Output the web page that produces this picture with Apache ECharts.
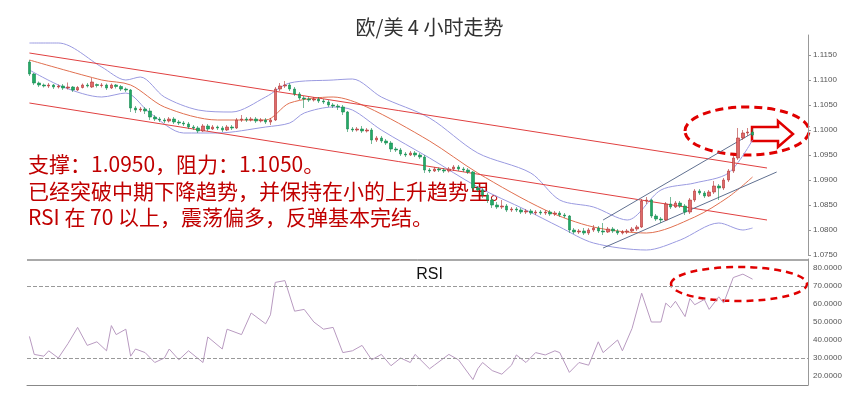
<!DOCTYPE html>
<html>
<head>
<meta charset="utf-8">
<script src="https://cdn.jsdelivr.net/npm/echarts@6/dist/echarts.min.js"></script>
<style>html,body{margin:0;padding:0;background:#fff}#main{width:859px;height:405px}</style>
</head>
<body>
<div id="main"></div>
<script>
// K线数据 [open, close, low, high]
const candles = [
  [1.1136,1.1112,1.1108,1.1140],[1.1112,1.1094,1.1090,1.1114],[1.1094,1.1090,1.1086,1.1097],[1.1090,1.1088,1.1085,1.1093],
  [1.1088,1.1090,1.1084,1.1094],[1.1090,1.1086,1.1082,1.1092],[1.1086,1.1088,1.1083,1.1091],[1.1088,1.1084,1.1080,1.1092],
  [1.1084,1.1086,1.1081,1.1095],[1.1086,1.1080,1.1076,1.1088],[1.1080,1.1085,1.1078,1.1088],[1.1085,1.1090,1.1083,1.1093],
  [1.1090,1.1088,1.1085,1.1094],[1.1086,1.1096,1.1084,1.1104],[1.1091,1.1089,1.1085,1.1093],[1.1089,1.1090,1.1085,1.1094],
  [1.1090,1.1084,1.1080,1.1093],[1.1084,1.1090,1.1082,1.1093],[1.1090,1.1087,1.1083,1.1092],[1.1087,1.1082,1.1078,1.1090],
  [1.1082,1.1080,1.1076,1.1085],[1.1080,1.1044,1.1036,1.1082],[1.1044,1.1040,1.1034,1.1048],[1.1040,1.1042,1.1036,1.1046],
  [1.1042,1.1038,1.1032,1.1046],[1.1038,1.1026,1.1020,1.1044],[1.1026,1.1022,1.1018,1.1030],[1.1022,1.1020,1.1016,1.1026],
  [1.1020,1.1018,1.1014,1.1024],[1.1018,1.1022,1.1015,1.1026],[1.1022,1.1016,1.1012,1.1026],[1.1016,1.1014,1.1010,1.1020],
  [1.1014,1.1012,1.1008,1.1018],[1.1012,1.1006,1.1002,1.1016],[1.1006,1.1004,1.1000,1.1010],[1.1004,1.0998,1.0994,1.1008],
  [1.0998,1.1008,1.0996,1.1012],[1.1008,1.1002,1.0998,1.1012],[1.1002,1.1006,1.1000,1.1010],[1.1006,1.1004,1.1000,1.1009],
  [1.1004,1.1000,1.0996,1.1008],[1.1000,1.1006,1.0998,1.1010],[1.1006,1.1004,1.1000,1.1010],[1.1004,1.1020,1.1002,1.1024],
  [1.1020,1.1022,1.1016,1.1030],[1.1022,1.1020,1.1016,1.1026],[1.1020,1.1022,1.1017,1.1026],[1.1022,1.1018,1.1014,1.1026],
  [1.1018,1.1020,1.1015,1.1024],[1.1020,1.1016,1.1012,1.1024],[1.1016,1.1020,1.1010,1.1024],[1.1020,1.1082,1.1018,1.1086],
  [1.1082,1.1088,1.1078,1.1094],[1.1088,1.1090,1.1084,1.1098],[1.1090,1.1082,1.1078,1.1094],[1.1082,1.1072,1.1068,1.1086],
  [1.1072,1.1064,1.1060,1.1076],[1.1064,1.1062,1.1044,1.1068],[1.1062,1.1060,1.1056,1.1066],[1.1060,1.1062,1.1057,1.1066],
  [1.1062,1.1058,1.1054,1.1066],[1.1058,1.1056,1.1052,1.1062],[1.1056,1.1050,1.1046,1.1060],[1.1050,1.1048,1.1044,1.1054],
  [1.1048,1.1046,1.1040,1.1052],[1.1046,1.1036,1.1030,1.1050],[1.1036,1.1002,1.0996,1.1038],[1.1002,1.1000,1.0996,1.1006],
  [1.1000,1.1002,1.0997,1.1006],[1.1002,1.0998,1.0994,1.1008],[1.0998,1.1000,1.0995,1.1004],[1.1000,1.0980,1.0972,1.1004],
  [1.0980,1.0984,1.0976,1.0988],[1.0984,1.0978,1.0974,1.0988],[1.0978,1.0974,1.0970,1.0982],[1.0974,1.0962,1.0956,1.0978],
  [1.0962,1.0960,1.0956,1.0966],[1.0960,1.0952,1.0948,1.0964],[1.0952,1.0950,1.0946,1.0956],[1.0950,1.0954,1.0948,1.0958],
  [1.0954,1.0950,1.0946,1.0958],[1.0950,1.0946,1.0942,1.0954],[1.0946,1.0920,1.0914,1.0950],[1.0920,1.0918,1.0914,1.0924],
  [1.0918,1.0922,1.0916,1.0926],[1.0922,1.0920,1.0916,1.0925],[1.0920,1.0918,1.0914,1.0924],[1.0918,1.0922,1.0915,1.0926],
  [1.0922,1.0926,1.0918,1.0930],[1.0926,1.0922,1.0918,1.0930],[1.0922,1.0920,1.0916,1.0926],[1.0920,1.0916,1.0912,1.0924],
  [1.0916,1.0884,1.0878,1.0918],[1.0884,1.0880,1.0876,1.0888],[1.0880,1.0870,1.0864,1.0884],[1.0870,1.0860,1.0854,1.0874],
  [1.0860,1.0850,1.0844,1.0864],[1.0850,1.0846,1.0842,1.0856],[1.0846,1.0848,1.0842,1.0860],[1.0848,1.0840,1.0836,1.0852],
  [1.0840,1.0842,1.0836,1.0846],[1.0842,1.0840,1.0836,1.0846],[1.0840,1.0836,1.0832,1.0844],[1.0836,1.0838,1.0832,1.0842],
  [1.0838,1.0834,1.0830,1.0842],[1.0834,1.0836,1.0830,1.0840],[1.0836,1.0834,1.0830,1.0840],[1.0834,1.0836,1.0830,1.0840],
  [1.0836,1.0832,1.0828,1.0840],[1.0832,1.0834,1.0828,1.0838],[1.0834,1.0830,1.0826,1.0838],[1.0830,1.0828,1.0824,1.0834],
  [1.0828,1.0800,1.0794,1.0830],[1.0800,1.0796,1.0792,1.0804],[1.0796,1.0798,1.0792,1.0802],[1.0798,1.0794,1.0790,1.0804],
  [1.0794,1.0800,1.0790,1.0804],[1.0800,1.0804,1.0796,1.0810],[1.0804,1.0798,1.0794,1.0808],[1.0798,1.0796,1.0790,1.0814],
  [1.0796,1.0802,1.0794,1.0806],[1.0802,1.0798,1.0794,1.0806],[1.0798,1.0794,1.0790,1.0802],[1.0794,1.0796,1.0791,1.0800],
  [1.0796,1.0798,1.0792,1.0802],[1.0798,1.0802,1.0796,1.0806],[1.0802,1.0806,1.0798,1.0810],[1.0806,1.0858,1.0804,1.0862],
  [1.0858,1.0860,1.0852,1.0866],[1.0860,1.0828,1.0824,1.0862],[1.0828,1.0822,1.0818,1.0832],[1.0822,1.0820,1.0814,1.0826],
  [1.0820,1.0852,1.0818,1.0856],[1.0852,1.0846,1.0842,1.0866],[1.0846,1.0854,1.0844,1.0858],[1.0854,1.0848,1.0844,1.0858],
  [1.0848,1.0836,1.0830,1.0852],[1.0836,1.0860,1.0832,1.0864],[1.0860,1.0878,1.0856,1.0882],[1.0878,1.0874,1.0870,1.0882],
  [1.0874,1.0868,1.0864,1.0878],[1.0868,1.0876,1.0866,1.0880],[1.0876,1.0888,1.0872,1.0898],[1.0888,1.0884,1.0860,1.0892],
  [1.0884,1.0900,1.0880,1.0904],[1.0900,1.0918,1.0896,1.0922],[1.0918,1.0944,1.0914,1.0948],[1.0944,1.0984,1.0940,1.1004],
  [1.0984,1.0994,1.0980,1.1000],[1.0994,1.0996,1.0988,1.1004],[1.0996,1.0990,1.0986,1.1002]
];
// 布林带 [index, value]
const bollUpper = [[0,1.1174],[6,1.1174],[15,1.1126],[20,1.1100],[23,1.1106],[28,1.1066],[35,1.1040],[42,1.1036],[49,1.1066],[54,1.1094],[63,1.1100],[67,1.1102],[73,1.1066],[83,1.1024],[93,1.0954],[104,1.0914],[110,1.0860],[117,1.0846],[124,1.0820],[131,1.0880],[138,1.0894],[145,1.0914],[150,1.0980]];
const bollMid = [[0,1.1140],[15,1.1100],[21,1.1090],[28,1.1046],[39,1.1020],[49,1.1020],[54,1.1054],[63,1.1066],[70,1.1046],[83,1.0978],[93,1.0914],[107,1.0840],[117,1.0806],[128,1.0794],[138,1.0826],[145,1.0866],[150,1.0906]];
const bollLower = [[0,1.1120],[7,1.1086],[15,1.1066],[20,1.1074],[25,1.1034],[32,1.0994],[39,1.0994],[49,1.1006],[54,1.1014],[57,1.1034],[63,1.1046],[67,1.1040],[73,1.1000],[83,1.0944],[93,1.0886],[103,1.0840],[110,1.0806],[117,1.0774],[128,1.0760],[135,1.0780],[143,1.0814],[148,1.0800],[150,1.0804]];
// 趋势线
const downLineA = [[0,1.1154],[153,1.0924]];
const downLineB = [[0,1.1054],[153,1.0820]];
const upLineA = [[119,1.0820],[150,1.0994]];
const upLineB = [[119,1.0764],[155,1.0916]];
// RSI [index, value]
const rsi = [[0,42],[1,32],[3,31],[4,34],[6,30],[8,38],[10,47],[12,37],[14,39],[16,34],[17,48],[18,43],[20,46],[21,31],[22,35],[24,33],[26,27.5],[28,30],[29,35],[31,29],[33,34],[36,27.5],[37,41.7],[40,35],[41,46],[44,43],[46,55],[49,49],[50,54],[51,72],[53,73],[55,56],[57,57],[59,50],[61,46],[63,47],[65,33],[67,34],[69,37],[71,29],[73,32],[75,25.7],[77,30],[79,27.5],[80,32],[83,24],[84,26],[87,32],[89,29],[92,18],[93,24],[94,27.5],[96,23],[98,21],[100,26],[101,31.7],[103,27.5],[105,33],[107,31.7],[109,34],[110,33],[112,22],[114,27.5],[116,26],[118,39],[119,33],[122,40],[123,34],[125,46.4],[127,66],[129,50],[131,50],[132,60.5],[133,58],[134,61.5],[136,53],[137,63],[138,59.6],[140,62.5],[141,57],[143,64],[144,60.5],[146,74.7],[148,76.6],[150,73.8]];
const categoryCount = 162;
const categories = Array.from({ length: categoryCount }, (_, i) => String(i));
const priceTicks = { min: 1.0750, max: 1.1190, interval: 0.005 };
const rsiTicks = { min: 15, max: 85, interval: 5 };

const chart = echarts.init(document.getElementById('main'));
const option = {
  animation: false,
  title: [
    { text: '欧/美 4 小时走势', left: 'center', top: 12, textStyle: { fontFamily: 'Noto Sans CJK SC', fontWeight: 'normal', fontSize: 20, color: '#333' } },
    { text: 'RSI', left: 'center', top: 262, textStyle: { fontFamily: 'Liberation Sans', fontWeight: 'normal', fontSize: 16, color: '#111' } }
  ],
  grid: [
    { left: 27, right: 51, top: 35, height: 220 },
    { left: 27, right: 51, top: 259, height: 126 }
  ],
  xAxis: [
    { type: 'category', data: categories, gridIndex: 0, show: false },
    { type: 'category', data: categories, gridIndex: 1, axisLabel: { show: false },
      axisLine: { lineStyle: { color: '#888' } }, axisTick: { interval: 15, length: 3, lineStyle: { color: '#888' } } }
  ],
  yAxis: [
    { type: 'value', gridIndex: 0, position: 'right', ...priceTicks, splitLine: { show: false },
      axisLine: { show: true, lineStyle: { color: '#999' } }, axisTick: { show: true, length: 3 },
      axisLabel: { fontSize: 8, color: '#555', margin: 5, formatter: v => v.toFixed(4), showMaxLabel: false } },
    { type: 'value', gridIndex: 1, position: 'right', ...rsiTicks, splitLine: { show: false },
      axisLine: { show: true, lineStyle: { color: '#999' } }, axisTick: { show: false },
      axisLabel: { fontSize: 8, color: '#555', margin: 5, formatter: v => (v % 10 === 0 && v >= 20 && v <= 80) ? v.toFixed(4) : '' } }
  ],
  series: [
    { type: 'line', data: bollUpper, symbol: 'none', smooth: 0.3, lineStyle: { color: '#9a9ae0', width: 1 }, z: 1 },
    { type: 'line', data: bollLower, symbol: 'none', smooth: 0.3, lineStyle: { color: '#9a9ae0', width: 1 }, z: 1 },
    { type: 'line', data: bollMid, symbol: 'none', smooth: 0.3, lineStyle: { color: '#e07050', width: 1 }, z: 1 },
    { type: 'line', data: downLineA, symbol: 'none', lineStyle: { color: '#e04040', width: 1 }, z: 1 },
    { type: 'line', data: downLineB, symbol: 'none', lineStyle: { color: '#e04040', width: 1 }, z: 1 },
    { type: 'line', data: upLineA, symbol: 'none', lineStyle: { color: '#607090', width: 1 }, z: 1 },
    { type: 'line', data: upLineB, symbol: 'none', lineStyle: { color: '#607090', width: 1 }, z: 1 },
    { type: 'candlestick', data: candles, barWidth: 3,
      itemStyle: { color: '#e06a6a', color0: '#22aa66', borderColor: '#b03030', borderColor0: '#1a8a50', borderWidth: 0.6 }, z: 3 },
    { type: 'line', xAxisIndex: 1, yAxisIndex: 1, data: rsi, symbol: 'none', lineStyle: { color: '#b89ac0', width: 1 },
      markLine: { silent: true, symbol: 'none', label: { show: false }, lineStyle: { color: '#999', type: 'dashed', width: 1 },
        data: [{ yAxis: 70 }, { yAxis: 30 }] } }
  ],
  graphic: [
    { type: 'line', shape: { x1: 27, y1: 260, x2: 808, y2: 260 }, style: { stroke: '#555', lineWidth: 1 } },
    { type: 'text', left: 28, top: 151, style: { text: '支撑：1.0950，阻力：1.1050。\n已经突破中期下降趋势，并保持在小的上升趋势里。\nRSI 在 70 以上，震荡偏多，反弹基本完结。',
      font: '21px "Noto Sans CJK SC"', fill: '#c00000', lineHeight: 26.5 } },
    { type: 'ellipse', shape: { cx: 747, cy: 131, rx: 62, ry: 24 }, style: { fill: 'none', stroke: '#e00000', lineWidth: 3, lineDash: [8, 5] } },
    { type: 'polygon', shape: { points: [[752, 127], [778, 127], [778, 121], [793, 134], [778, 147], [778, 141], [752, 141]] },
      style: { fill: '#fff', stroke: '#e00000', lineWidth: 2.5 } },
    { type: 'ellipse', shape: { cx: 739, cy: 284, rx: 68, ry: 17 }, style: { fill: 'none', stroke: '#e00000', lineWidth: 2.5, lineDash: [7, 5] } }
  ]
};
chart.setOption(option);
</script>
</body>
</html>
